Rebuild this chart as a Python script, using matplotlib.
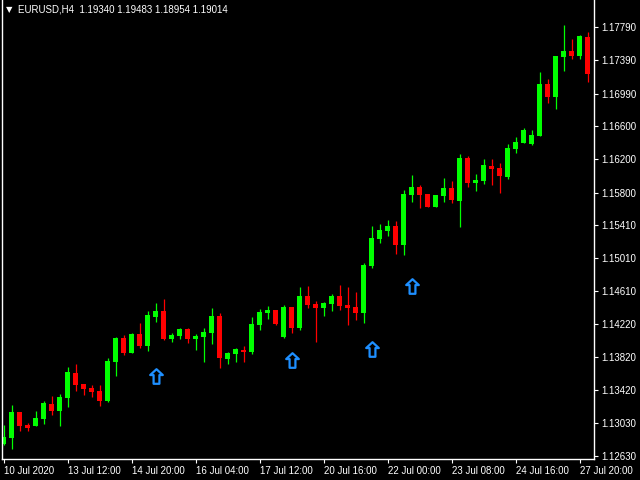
import numpy as np
import matplotlib
matplotlib.use("Agg")
import matplotlib.pyplot as plt
from matplotlib.path import Path

# EURUSD H4 candles
opens = [1.12775, 1.12850, 1.13156, 1.13003, 1.12995, 1.13079, 1.13256, 1.13175, 1.13328, 1.13629,
         1.13497, 1.13448, 1.13412, 1.13292, 1.13761, 1.14050, 1.13873, 1.14102, 1.13957, 1.14306,
         1.14375, 1.14038, 1.14078, 1.14158, 1.14038, 1.14062, 1.14110, 1.14315, 1.13797, 1.13857,
         1.13906, 1.13881, 1.14206, 1.14351, 1.14387, 1.14062, 1.14423, 1.14170, 1.14555, 1.14459,
         1.14411, 1.14459, 1.14555, 1.14447, 1.14423, 1.14351, 1.14920, 1.15241, 1.15337, 1.15397,
         1.15169, 1.15770, 1.15866, 1.15782, 1.15626, 1.15758, 1.15854, 1.15698, 1.16215, 1.15915,
         1.15939, 1.16119, 1.16095, 1.15987, 1.16324, 1.16396, 1.16384, 1.16480, 1.17106, 1.16949,
         1.17430, 1.17503, 1.17442, 1.17671]
highs = [1.13003, 1.13244, 1.13160, 1.13024, 1.13172, 1.13296, 1.13352, 1.13376, 1.13701, 1.13741,
         1.13497, 1.13484, 1.13484, 1.13809, 1.14062, 1.14086, 1.14110, 1.14230, 1.14375, 1.14471,
         1.14519, 1.14110, 1.14174, 1.14170, 1.14098, 1.14170, 1.14411, 1.14351, 1.13881, 1.13930,
         1.13954, 1.14303, 1.14399, 1.14435, 1.14390, 1.14447, 1.14425, 1.14663, 1.14675, 1.14495,
         1.14483, 1.14579, 1.14687, 1.14663, 1.14603, 1.14952, 1.15397, 1.15421, 1.15469, 1.15457,
         1.15830, 1.16011, 1.15890, 1.15782, 1.15770, 1.15975, 1.15939, 1.16263, 1.16239, 1.16023,
         1.16203, 1.16203, 1.16155, 1.16384, 1.16468, 1.16576, 1.16552, 1.17250, 1.17166, 1.17445,
         1.17815, 1.17647, 1.17690, 1.17731]
lows = [1.12763, 1.12715, 1.12935, 1.12935, 1.12990, 1.13019, 1.13124, 1.12995, 1.13220, 1.13416,
        1.13368, 1.13340, 1.13232, 1.13280, 1.13593, 1.13845, 1.13873, 1.13933, 1.13893, 1.14242,
        1.14030, 1.14005, 1.14038, 1.13993, 1.13906, 1.13761, 1.13978, 1.13689, 1.13737, 1.13761,
        1.13761, 1.13857, 1.14146, 1.14278, 1.14206, 1.14055, 1.14110, 1.14146, 1.14411, 1.14002,
        1.14315, 1.14375, 1.14387, 1.14206, 1.14266, 1.14230, 1.14896, 1.15193, 1.15277, 1.15060,
        1.15048, 1.15686, 1.15614, 1.15626, 1.15626, 1.15686, 1.15674, 1.15385, 1.15866, 1.15818,
        1.15903, 1.15890, 1.15794, 1.15963, 1.16275, 1.16390, 1.16372, 1.16475, 1.16877, 1.16805,
        1.17262, 1.17406, 1.17406, 1.17130]
closes = [1.12863, 1.13163, 1.12995, 1.12971, 1.13088, 1.13268, 1.13175, 1.13340, 1.13641, 1.13484,
          1.13436, 1.13400, 1.13292, 1.13773, 1.14050, 1.13869, 1.14098, 1.13957, 1.14327, 1.14375,
          1.14038, 1.14086, 1.14158, 1.14041, 1.14074, 1.14126, 1.14315, 1.13809, 1.13869, 1.13918,
          1.13881, 1.14218, 1.14363, 1.14387, 1.14218, 1.14423, 1.14170, 1.14555, 1.14447, 1.14411,
          1.14471, 1.14555, 1.14435, 1.14411, 1.14351, 1.14928, 1.15253, 1.15349, 1.15397, 1.15169,
          1.15782, 1.15866, 1.15770, 1.15626, 1.15770, 1.15854, 1.15710, 1.16215, 1.15915, 1.15951,
          1.16131, 1.16083, 1.15999, 1.16336, 1.16408, 1.16552, 1.16492, 1.17106, 1.16949, 1.17442,
          1.17503, 1.17442, 1.17683, 1.17226]

# signal arrows (bar index, price)
arrow_bars = [19, 36, 46, 51]
arrow_prices = [1.13593, 1.13791, 1.13912, 1.14675]

price_ticks = [1.12630, 1.13030, 1.13420, 1.13820, 1.14220, 1.14610, 1.15010,
               1.15410, 1.15800, 1.16200, 1.16600, 1.16990, 1.17390, 1.17790]
date_tick_bars = [0, 8, 16, 24, 32, 40, 48, 56, 64, 72]
date_labels = ["10 Jul 2020", "13 Jul 12:00", "14 Jul 20:00", "16 Jul 04:00", "17 Jul 12:00",
               "20 Jul 16:00", "22 Jul 00:00", "23 Jul 08:00", "24 Jul 16:00", "27 Jul 20:00"]
title = "EURUSD,H4  1.19340 1.19483 1.18954 1.19014"

plt.rcParams['font.family'] = ['Liberation Sans', 'DejaVu Sans']

o = np.array(opens)
h = np.array(highs)
l = np.array(lows)
c = np.array(closes)
x = np.arange(len(o))
up = c >= o
colors = np.where(up, '#00ff00', '#ff0000')

fig = plt.figure(figsize=(6.4, 4.8), dpi=100, facecolor='black')
ax = fig.add_axes([2 / 640, 21 / 480, 592 / 640, 459 / 480], facecolor='black')

# wicks and bodies (tiny bodies get a minimum height so dojis stay visible)
ax.vlines(x, l, h, colors=colors, linewidth=0.9)
flat = np.abs(c - o) < 0.00006
body = np.maximum(np.abs(c - o), 0.00006)
ax.bar(x, body, bottom=np.minimum(o, c) - np.where(flat, 0.00003, 0), width=0.62,
       color=colors, linewidth=0)

# hollow up arrows
arrow = Path([(0, 7.5), (6.5, 1.5), (3, 1.5), (3, -7.5), (-3, -7.5), (-3, 1.5), (-6.5, 1.5), (0, 7.5)],
             [Path.MOVETO] + [Path.LINETO] * 6 + [Path.CLOSEPOLY])
ax.plot(arrow_bars, arrow_prices, linestyle='none', marker=arrow, markersize=10.5,
        markerfacecolor='none', markeredgecolor='#1e8fff', markeredgewidth=1.6)

ax.set_xlim(-0.19, 73.81)
ax.set_ylim(1.12594, 1.18116)

ax.yaxis.tick_right()
ax.set_yticks(price_ticks)
ax.set_yticklabels([f"{p:.5f}" for p in price_ticks])
ax.set_xticks(date_tick_bars)
ax.set_xticklabels(date_labels, ha='left')
ax.tick_params(colors='white', labelsize=7, length=3, width=0.8, pad=2)

for side in ['left', 'bottom', 'right']:
    ax.spines[side].set_color('white')
    ax.spines[side].set_linewidth(1)
ax.spines['top'].set_visible(False)

fig.text(18 / 640, 1 - 10 / 480, title, color='white', fontsize=7, va='center', ha='left')
fig.text(9 / 640, 1 - 10 / 480, "\u25bc", color='white', fontsize=6, va='center', ha='center',
         family='DejaVu Sans')

fig.savefig('out.png', dpi=100, facecolor='black')
